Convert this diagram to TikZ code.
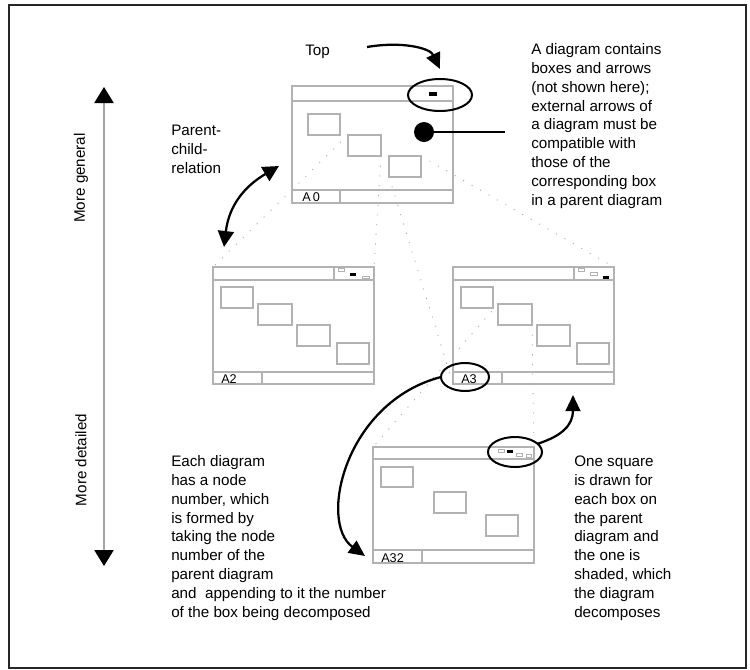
\documentclass[tikz,border=0pt]{standalone}
\usepackage{fontspec}
\setmainfont{Liberation Sans}
\usetikzlibrary{arrows.meta,shapes.geometric}

\begin{document}
\begin{tikzpicture}[x=0.75pt,y=-0.75pt,
  frame/.style={draw=black!30, line width=0.8pt},
  guide/.style={draw=black!35, line width=0.6pt, dash pattern=on 0.8pt off 6.5pt},
  bold/.style={line width=1.7pt},
  tip/.style={-{Triangle[length=12pt,width=11pt]}},
  ring/.style={ellipse, draw, line width=1.5pt, inner sep=0pt, outer sep=0pt},
  txt/.style={font=\fontsize{11.4}{14.1}\selectfont, align=left, inner sep=0pt, anchor=base west},
  tag/.style={font=\fontsize{9.5}{10}\selectfont, inner sep=0pt, anchor=base west},
]
\useasboundingbox (0,0) rectangle (750,669);
\draw[line width=1.1pt, draw=black!85] (9,5) rectangle (746,668);

% ---- vertical scale: general (top) to detailed (bottom)
\coordinate (axTop) at (104,87);
\coordinate (axBot) at (104,566);
\draw[draw=black!35, line width=0.8pt, {Triangle[length=12pt,width=14.5pt,black]}-{Triangle[length=12pt,width=14.5pt,black]}] (axTop) -- (axBot);
\node[font=\fontsize{11.4}{14}\selectfont, rotate=90, inner sep=0pt] (gen) at (81,178) {More general};
\node[font=\fontsize{11.4}{14}\selectfont, rotate=90, inner sep=0pt] (det) at (81,460) {More detailed};

% ---- diagram A0
\draw[frame] (292,86) rectangle (453,203);
\draw[frame] (292,101) -- (453,101);
\draw[frame] (292,190) -- (453,190);
\draw[frame] (340,190) -- (340,203);
\draw[frame] (308,114) rectangle (340,135);
\draw[frame] (348,135) rectangle (381,156);
\draw[frame] (389,156) rectangle (421,177);
\fill (429,92) rectangle (437,96);
\node[tag] (lA0) at (302,201) {A\,0};
\coordinate (a0b2tl) at (348,135);
\coordinate (a0b2br) at (381,156);
\coordinate (a0b3bl) at (389,177);
\coordinate (a0b3tr) at (421,156);

% ---- diagram A2
\draw[frame] (213,267) rectangle (374,384);
\draw[frame] (213,280) -- (374,280);
\draw[frame] (334,267) -- (334,280);
\draw[frame] (213,372) -- (374,372);
\draw[frame] (262,372) -- (262,384);
\draw[frame] (221,287) rectangle (253,308);
\draw[frame] (258,304) rectangle (292,325);
\draw[frame] (297,325) rectangle (330,346);
\draw[frame] (337,343) rectangle (369,364);
\draw[frame, line width=0.5pt] (338,268) rectangle (344,271);
\fill (350,273) rectangle (356,275.5);
\draw[frame, line width=0.5pt] (362,276) rectangle (369,278.5);
\node[tag] (lA2) at (221,383) {A2};
\coordinate (a2tl) at (213,267);
\coordinate (a2tr) at (374,267);

% ---- diagram A3
\draw[frame] (453,267) rectangle (614,384);
\draw[frame] (453,280) -- (614,280);
\draw[frame] (574,267) -- (574,280);
\draw[frame] (453,372) -- (614,372);
\draw[frame] (502,372) -- (502,384);
\draw[frame] (461,287) rectangle (493,308);
\draw[frame] (498,304) rectangle (532,325);
\draw[frame] (537,325) rectangle (570,346);
\draw[frame] (577,343) rectangle (609,364);
\draw[frame, line width=0.5pt] (578,268) rectangle (584,271);
\draw[frame, line width=0.5pt] (590,272.5) rectangle (597,275);
\fill (603,276) rectangle (609,278.5);
\node[tag] (lA3) at (461,383) {A3};
\coordinate (a3tl) at (453,267);
\coordinate (a3tr) at (614,267);
\coordinate (a3bl) at (453,384);
\coordinate (a3b2tl) at (498,304);
\coordinate (a3b2br) at (532,325);

% ---- diagram A32
\draw[frame] (373,447) rectangle (534,563);
\draw[frame] (373,459) -- (534,459);
\draw[frame] (373,550) -- (534,550);
\draw[frame] (422,550) -- (422,563);
\draw[frame] (381,467) rectangle (413,487);
\draw[frame] (434,492) rectangle (466,513);
\draw[frame] (486,515) rectangle (518,536);
\draw[frame, line width=0.5pt] (498,449) rectangle (504,452);
\fill (507,450) rectangle (513,453);
\draw[frame, line width=0.5pt] (516,453) rectangle (522,456);
\draw[frame, line width=0.5pt] (526,454) rectangle (531,457);
\node[tag] (lA32) at (381,562) {A32};
\coordinate (a32tl) at (373,447);
\coordinate (a32tr) at (534,447);

% ---- decomposition guides
\draw[guide] (a0b2tl) -- (a2tl);
\draw[guide] (a0b2br) -- (a2tr);
\draw[guide] (a0b3bl) -- (a3bl);
\draw[guide] (a0b3tr) -- (a3tr);
\draw[guide] (a3b2tl) -- (a32tl);
\draw[guide] (a3b2br) -- (a32tr);

% ---- highlight rings
\node[ring, minimum width=48pt, minimum height=24pt] (r0) at (440,95) {};
\node[ring, minimum width=36pt, minimum height=21pt] (r3) at (465,377) {};
\node[ring, minimum width=40.5pt, minimum height=22.5pt] (r32) at (515,452) {};

% ---- texts (multi-line nodes sit on the baseline of their last line)
\node[txt] (top) at (305,55) {Top};
\node[txt] (pcr) at (171,173) {Parent-\\child-\\relation};
\node[txt] (contains) at (531,205) {A diagram contains\\boxes and arrows\\(not shown here);\\external arrows of\\a diagram must be\\compatible with\\those of the\\corresponding box\\in a parent diagram};
\node[txt] (number) at (171,617) {Each diagram\\has a node\\number, which\\is formed by\\taking the node\\number of the\\parent diagram\\and\ \ appending to it the number\\of the box being decomposed};
\node[txt] (square) at (574,617) {One square\\is drawn for\\each box on\\the parent\\diagram and\\the one is\\shaded, which\\the diagram\\decomposes};

% ---- pointer from the body of A0
\node[circle, fill, inner sep=0pt, minimum size=15pt] (dot) at (424,132) {};
\coordinate (dotEnd) at (505,132);
\draw[line width=1.5pt] (dot) -- (dotEnd);

% ---- arrows
\coordinate (topS) at (367,47);
\coordinate (topE) at (440,69);
\draw[bold, tip] (topS) .. controls (402,41) and (430,48) .. (topE);

\coordinate (pcA) at (224,247);
\coordinate (pcB) at (279,166);
\draw[bold, {Triangle[length=12pt,width=12pt]}-{Triangle[length=12pt,width=12pt]}] (pcA) .. controls (229,205) and (245,186) .. (pcB);

\coordinate (numE) at (365,556);
\draw[bold, tip] (r3.180) .. controls (345,402) and (318,522) .. (numE);

\coordinate (sqE) at (573,395);
\draw[bold, tip] (r32.20) .. controls (562,436) and (573,425) .. (sqE);
\end{tikzpicture}
\end{document}
